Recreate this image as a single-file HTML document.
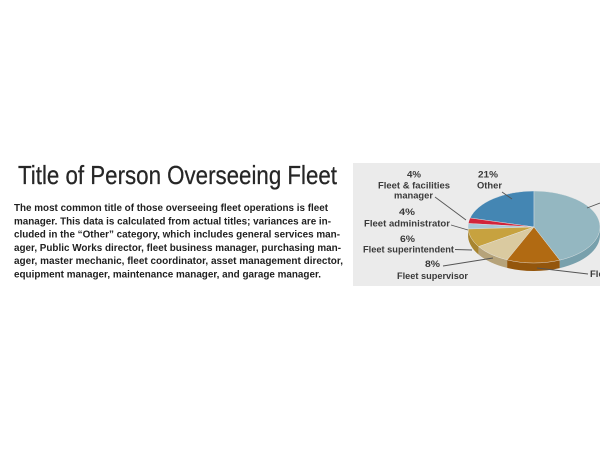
<!DOCTYPE html>
<html>
<head>
<meta charset="utf-8">
<style>
html,body{margin:0;padding:0;background:#fff;}
svg{display:block;}
text{font-family:"Liberation Sans",Arial,sans-serif;}
</style>
</head>
<body>
<svg width="600" height="450" viewBox="0 0 600 450" xmlns="http://www.w3.org/2000/svg">
<rect x="0" y="0" width="600" height="450" fill="#ffffff"/>

<!-- Title -->
<text x="18" y="184" font-size="26" fill="#262626" stroke="#262626" stroke-width="0.25" textLength="319" lengthAdjust="spacingAndGlyphs">Title of Person Overseeing Fleet</text>

<!-- Body -->
<g font-size="10" font-weight="bold" fill="#1f1f1f">
<text x="14" y="211" textLength="314" lengthAdjust="spacingAndGlyphs">The most common title of those overseeing fleet operations is fleet</text>
<text x="14" y="224.3" textLength="317" lengthAdjust="spacingAndGlyphs">manager. This data is calculated from actual titles; variances are in-</text>
<text x="14" y="237.6" textLength="326" lengthAdjust="spacingAndGlyphs">cluded in the “Other” category, which includes general services man-</text>
<text x="14" y="250.9" textLength="327" lengthAdjust="spacingAndGlyphs">ager, Public Works director, fleet business manager, purchasing man-</text>
<text x="14" y="264.2" textLength="329" lengthAdjust="spacingAndGlyphs">ager, master mechanic, fleet coordinator, asset management director,</text>
<text x="14" y="277.5" textLength="307" lengthAdjust="spacingAndGlyphs">equipment manager, maintenance manager, and garage manager.</text>
</g>

<!-- Panel -->
<rect x="353" y="163" width="247" height="123" fill="#ebebeb"/>

<!-- Pie sides -->
<g stroke="none">
<path d="M468,227 A66,36 0 0 0 468.10,229.01 L468.10,237.01 A66,36 0 0 1 468,235 Z" fill="#8eb0c2"/>
<path d="M468.10,229.01 A66,36 0 0 0 478.65,246.61 L478.65,254.61 A66,36 0 0 1 468.10,237.01 Z" fill="#a88530"/>
<path d="M478.65,246.61 A66,36 0 0 0 507.16,259.89 L507.16,267.89 A66,36 0 0 1 478.65,254.61 Z" fill="#b6a37a"/>
<path d="M507.16,259.89 A66,36 0 0 0 559.79,260.14 L559.79,268.14 A66,36 0 0 1 507.16,267.89 Z" fill="#94560c"/>
<path d="M559.79,260.14 A66,36 0 0 0 600,227 L600,235 A66,36 0 0 1 559.79,268.14 Z" fill="#78a0ac"/>
</g>

<!-- Pie tops -->
<g stroke="#e8e8e8" stroke-width="0.4">
<path d="M534,227 L534,191 A66,36 0 0 0 470.10,217.99 Z" fill="#4486b3"/>
<path d="M534,227 L470.10,217.99 A66,36 0 0 0 468.32,223.49 Z" fill="#d2243a"/>
<path d="M534,227 L468.32,223.49 A66,36 0 0 0 468.10,229.01 Z" fill="#a8c8d8"/>
<path d="M534,227 L468.10,229.01 A66,36 0 0 0 478.65,246.61 Z" fill="#c7a23f"/>
<path d="M534,227 L478.65,246.61 A66,36 0 0 0 507.16,259.89 Z" fill="#dacaa0"/>
<path d="M534,227 L507.16,259.89 A66,36 0 0 0 559.79,260.14 Z" fill="#b16a12"/>
<path d="M534,227 L559.79,260.14 A66,36 0 0 0 534,191 Z" fill="#94b7c1"/>
</g>

<!-- Leader lines -->
<g stroke="#555" stroke-width="0.9" fill="none">
<line x1="435" y1="197" x2="466" y2="220"/>
<line x1="451" y1="225" x2="468" y2="230"/>
<line x1="455" y1="249.5" x2="472" y2="250"/>
<line x1="443" y1="266" x2="493" y2="258"/>
<line x1="502" y1="192" x2="512" y2="199"/>
<line x1="587" y1="208" x2="600" y2="203"/>
<line x1="537" y1="268" x2="588" y2="274"/>
</g>

<!-- Labels -->
<g font-size="9.5" font-weight="bold" fill="#3a3a3a" text-anchor="middle">
<text x="414" y="177.5" textLength="14" lengthAdjust="spacingAndGlyphs">4%</text>
<text x="414" y="188.5" textLength="72" lengthAdjust="spacingAndGlyphs">Fleet &amp; facilities</text>
<text x="413.5" y="198.5" textLength="39" lengthAdjust="spacingAndGlyphs">manager</text>
<text x="407" y="215" textLength="16" lengthAdjust="spacingAndGlyphs">4%</text>
<text x="407" y="226.5" textLength="86" lengthAdjust="spacingAndGlyphs">Fleet administrator</text>
<text x="407.5" y="242" textLength="15" lengthAdjust="spacingAndGlyphs">6%</text>
<text x="408.5" y="252.5" textLength="91" lengthAdjust="spacingAndGlyphs">Fleet superintendent</text>
<text x="432.5" y="267" textLength="15" lengthAdjust="spacingAndGlyphs">8%</text>
<text x="432.5" y="279" textLength="71" lengthAdjust="spacingAndGlyphs">Fleet supervisor</text>
<text x="488" y="177.5" textLength="20" lengthAdjust="spacingAndGlyphs">21%</text>
<text x="489.5" y="188.5" textLength="25" lengthAdjust="spacingAndGlyphs">Other</text>
<text x="590" y="277" text-anchor="start">Fleet director</text>
</g>
</svg>
</body>
</html>
